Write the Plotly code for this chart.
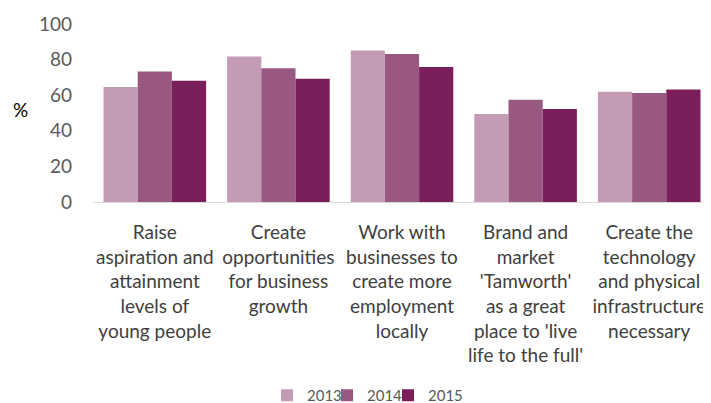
import plotly.graph_objects as go

categories = [
    "Raise<br>aspiration and<br>attainment<br>levels of<br>young people",
    "Create<br>opportunities<br>for business<br>growth",
    "Work with<br>businesses to<br>create more<br>employment<br>locally",
    "Brand and<br>market<br>'Tamworth'<br>as a great<br>place to 'live<br>life to the full'",
    "Create the<br>technology<br>and physical<br>infrastructure<br>necessary",
]
years = ["2013", "2014", "2015"]
values_2013 = [64.6, 81.7, 85.1, 49.5, 62.0]
values_2014 = [73.3, 75.2, 83.2, 57.5, 61.2]
values_2015 = [68.1, 69.2, 75.8, 52.3, 63.2]
colors = ["#c49bb5", "#985880", "#7a1f5a"]
y_ticks = [0, 20, 40, 60, 80, 100]

W, H = 703, 395
legend_ids = ["legend", "legend2", "legend3"]
legend_text_x = [301, 361, 422]  # figure px where legend text starts

fig = go.Figure()
for name, vals, col, lid in zip(years, [values_2013, values_2014, values_2015], colors, legend_ids):
    fig.add_trace(go.Bar(x=categories, y=vals, name=name, legend=lid,
                         marker=dict(color=col, line=dict(width=0))))

legend_common = dict(xref="container", yref="container", xanchor="left", yanchor="middle",
                     orientation="h", y=(H - 387.5) / H, font=dict(size=15, color="#595959"),
                     bgcolor="rgba(0,0,0,0)", borderwidth=0)

fig.update_layout(
    width=W, height=H,
    margin=dict(l=85, r=0, t=16, b=201, autoexpand=False),
    paper_bgcolor="white", plot_bgcolor="white",
    barmode="group", bargap=0.17, bargroupgap=0,
    font=dict(family="Lato, sans-serif", color="#404040"),
    showlegend=True,
    legend=dict(x=(legend_text_x[0] - 42) / W, **legend_common),
    legend2=dict(x=(legend_text_x[1] - 42) / W, **legend_common),
    legend3=dict(x=(legend_text_x[2] - 42) / W, **legend_common),
    xaxis=dict(showline=True, linecolor="#d9d9d9", linewidth=1, ticks="",
               tickfont=dict(size=19, color="#404040"), ticklabelstandoff=13,
               showgrid=False),
    yaxis=dict(range=[0, 100], tickvals=y_ticks, showgrid=False, zeroline=False,
               showline=False, ticks="", tickfont=dict(size=19, color="#595959"),
               ticklabelstandoff=20),
    annotations=[dict(text="%", x=-0.118, y=0.517, xref="paper", yref="paper",
                      showarrow=False, xanchor="center", yanchor="middle",
                      font=dict(size=19, color="#000000"))],
)

fig.write_html("out.html")
